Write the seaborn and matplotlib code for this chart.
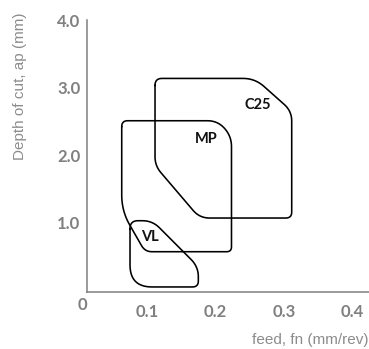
import numpy as np
import pandas as pd
import matplotlib
matplotlib.use("Agg")
import matplotlib.pyplot as plt
import seaborn as sns

# ---- data ----
c25_feed = [0.1117, 0.2576, 0.3112, 0.3112, 0.1768, 0.1117]
c25_depth = [3.14, 3.14, 2.655, 1.068, 1.068, 1.844]
c25_round = [7, 12, 10, 6, 10, 9]

mp_feed = [0.0631, 0.2033, 0.2233, 0.2233, 0.0971, 0.0631]
mp_depth = [2.512, 2.512, 2.282, 0.568, 0.568, 1.172]
mp_round = [6, 11, 11, 5, 7, 16]

vl_feed = [0.0752, 0.1079, 0.1749, 0.1749, 0.0752]
vl_depth = [1.028, 1.028, 0.345, 0.045, 0.045]
vl_round = [8, 10, 11, 6, 22]

zone_names = ["C25", "MP", "VL"]
label_feed = [0.2616, 0.187, 0.1044]
label_depth = [2.745, 2.236, 0.79]

x_ticks = [0.1, 0.2, 0.3, 0.4]
x_ticklabels = ["0.1", "0.2", "0.3", "0.4"]
y_ticks = [1.0, 2.0, 3.0, 4.0]
y_ticklabels = ["1.0", "2.0", "3.0", "4.0"]

XLIM = (0.012, 0.424)
YLIM = (-0.03, 4.0)

# approximate pixel scale (for isotropic corner rounding)
SX, SY = 685.2, 67.4


def rounded_outline(xs, ys, rs, n=14):
    P = np.column_stack([np.asarray(xs) * SX, np.asarray(ys) * SY])
    N = len(P)
    pieces = []
    t = np.linspace(0, 1, n)[:, None]
    for i in range(N):
        a, p, b = P[i - 1], P[i], P[(i + 1) % N]
        la, lb = np.linalg.norm(a - p), np.linalg.norm(b - p)
        d = min(rs[i], 0.5 * la, 0.5 * lb)
        s = p + (a - p) / la * d
        e = p + (b - p) / lb * d
        pieces.append((1 - t) ** 2 * s + 2 * (1 - t) * t * p + t ** 2 * e)
    pts = np.vstack(pieces + [pieces[0][:1]])
    return pts[:, 0] / SX, pts[:, 1] / SY


frames = []
for name, fx, dy, rr in [("C25", c25_feed, c25_depth, c25_round),
                         ("MP", mp_feed, mp_depth, mp_round),
                         ("VL", vl_feed, vl_depth, vl_round)]:
    x, y = rounded_outline(fx, dy, rr)
    frames.append(pd.DataFrame({"feed": x, "depth": y, "zone": name,
                                "order": np.arange(len(x))}))
df = pd.concat(frames, ignore_index=True)

sns.set_style("white")
plt.rcParams["font.family"] = ["Lato", "DejaVu Sans"]

fig = plt.figure(figsize=(3.69, 3.49), dpi=100)
ax = fig.add_axes([0.235, 0.1633, 0.765, 0.778])

sns.lineplot(data=df, x="feed", y="depth", units="zone", estimator=None,
             sort=False, color="black", linewidth=1.15, ax=ax, legend=False)

for name, lx, ly in zip(zone_names, label_feed, label_depth):
    ax.text(lx, ly, name, ha="center", va="center", fontsize=10.5,
            fontweight="bold", color="#111111", family=["Lato", "DejaVu Sans"])

ax.set_xlim(*XLIM)
ax.set_ylim(*YLIM)
ax.set_xticks(x_ticks)
ax.set_xticklabels(x_ticklabels)
ax.set_yticks(y_ticks)
ax.set_yticklabels(y_ticklabels)

gray = "#808080"
for s in ["top", "right"]:
    ax.spines[s].set_visible(False)
for s in ["left", "bottom"]:
    ax.spines[s].set_color(gray)
    ax.spines[s].set_linewidth(1.1)

ax.tick_params(axis="both", direction="in", length=3, width=1, color=gray,
               labelcolor=gray, labelsize=12)
ax.tick_params(axis="x", pad=8.5)
ax.tick_params(axis="y", pad=4.5)
for lab in ax.get_xticklabels() + ax.get_yticklabels():
    lab.set_fontweight("bold")

ax.text(-0.014, -0.048, "0", transform=ax.transAxes, ha="center", va="center",
        fontsize=12, fontweight="bold", color=gray)

lab_color = "#8c8c8c"
ax.set_ylabel("Depth of cut, ap (mm)", fontsize=11, color=lab_color,
              family=["Liberation Sans", "DejaVu Sans"])
ax.yaxis.set_label_coords(-0.236, 0.759)
ax.yaxis.label.set_va("center")
ax.set_xlabel("feed, fn (mm/rev)", fontsize=11, color=lab_color,
              family=["Liberation Sans", "DejaVu Sans"])
ax.xaxis.set_label_coords(0.9965, -0.177)
ax.xaxis.label.set_ha("right")
ax.xaxis.label.set_va("center")

fig.savefig("out.png", dpi=100)
